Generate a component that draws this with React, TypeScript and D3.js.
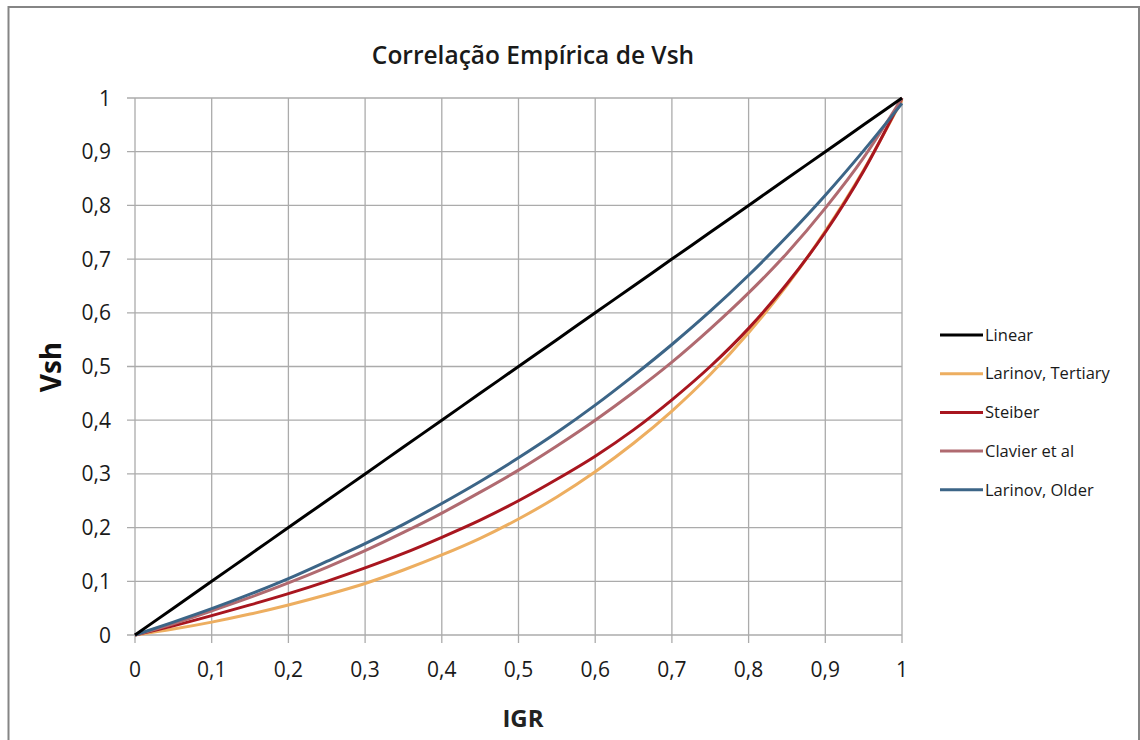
import React, { useRef, useEffect } from 'react';
import * as d3 from 'd3';

const W = 1140;
const H = 740;

// IGR values (x axis)
const igr = [0, 0.05, 0.1, 0.15, 0.2, 0.25, 0.3, 0.35, 0.4, 0.45, 0.5, 0.55, 0.6, 0.65, 0.7, 0.75, 0.8, 0.85, 0.9, 0.95, 1];

// Vsh readings per correlation
const linear = [0, 0.05, 0.1, 0.15, 0.2, 0.25, 0.3, 0.35, 0.4, 0.45, 0.5, 0.55, 0.6, 0.65, 0.7, 0.75, 0.8, 0.85, 0.9, 0.95, 1];
const larinovTertiary = [0, 0.011, 0.024, 0.039, 0.056, 0.075, 0.096, 0.121, 0.149, 0.18, 0.216, 0.257, 0.304, 0.357, 0.417, 0.485, 0.563, 0.651, 0.752, 0.866, 0.996];
const steiber = [0, 0.017, 0.036, 0.056, 0.077, 0.1, 0.125, 0.152, 0.182, 0.214, 0.25, 0.29, 0.333, 0.382, 0.438, 0.5, 0.571, 0.654, 0.75, 0.864, 1];
const clavier = [0, 0.021, 0.045, 0.07, 0.097, 0.126, 0.157, 0.191, 0.227, 0.266, 0.307, 0.352, 0.4, 0.452, 0.508, 0.57, 0.637, 0.711, 0.795, 0.889, 1];
const larinovOlder = [0, 0.024, 0.049, 0.076, 0.105, 0.137, 0.17, 0.206, 0.245, 0.286, 0.33, 0.377, 0.428, 0.483, 0.541, 0.603, 0.67, 0.742, 0.819, 0.902, 0.99];

const seriesNames = ['Linear', 'Larinov, Tertiary', 'Steiber', 'Clavier et al', 'Larinov, Older'];
const seriesValues = [linear, larinovTertiary, steiber, clavier, larinovOlder];
const seriesColors = ['#000000', '#EDAE60', '#A8161F', '#B06A70', '#3C6587'];

const ticks = [0, 0.1, 0.2, 0.3, 0.4, 0.5, 0.6, 0.7, 0.8, 0.9, 1];
const fmt = (d: number) => (d === 0 || d === 1 ? String(d) : d.toFixed(1).replace('.', ','));

const App: React.FC = () => {
  const svgRef = useRef<SVGSVGElement>(null);

  useEffect(() => {
    if (!svgRef.current) return;
    const svg = d3.select(svgRef.current);
    svg.selectAll('*').remove();

    const font = "'Open Sans', 'Noto Sans', sans-serif";
    const margin = { left: 135, right: 238, top: 98, bottom: 105 };

    const x = d3.scaleLinear().domain([0, 1]).range([margin.left, W - margin.right]);
    const y = d3.scaleLinear().domain([0, 1]).range([H - margin.bottom, margin.top]);

    svg.append('rect')
      .attr('x', 0).attr('y', 0).attr('width', W).attr('height', H)
      .attr('fill', '#ffffff');

    // outer chart border
    svg.append('rect')
      .attr('x', 8.5).attr('y', 7).attr('width', W - 9.5).attr('height', H + 10)
      .attr('fill', 'none').attr('stroke', '#858585').attr('stroke-width', 2);

    // Grid
    const grid = svg.append('g').attr('stroke', '#ababab').attr('stroke-width', 1.3);
    ticks.forEach(t => {
      grid.append('line')
        .attr('x1', x(t)).attr('x2', x(t))
        .attr('y1', y(1)).attr('y2', y(0) + 8);
      grid.append('line')
        .attr('x1', x(0) - 8).attr('x2', x(1))
        .attr('y1', y(t)).attr('y2', y(t));
    });

    // Tick labels
    svg.append('g')
      .selectAll('text')
      .data(ticks)
      .join('text')
      .attr('x', d => x(d))
      .attr('y', y(0) + 42)
      .attr('text-anchor', 'middle')
      .attr('font-family', font)
      .attr('font-size', 21)
      .attr('fill', '#1a1a1a')
      .text(d => fmt(d));

    svg.append('g')
      .selectAll('text')
      .data(ticks)
      .join('text')
      .attr('x', 111)
      .attr('y', d => y(d))
      .attr('dy', '0.36em')
      .attr('text-anchor', 'end')
      .attr('font-family', font)
      .attr('font-size', 21)
      .attr('fill', '#1a1a1a')
      .text(d => fmt(d));

    // Curves
    const line = d3.line<number>()
      .x((_, i) => x(igr[i]))
      .y(d => y(d))
      .curve(d3.curveMonotoneX);

    const drawOrder = [1, 2, 3, 4, 0];
    drawOrder.forEach(k => {
      svg.append('path')
        .datum(seriesValues[k])
        .attr('d', line)
        .attr('fill', 'none')
        .attr('stroke', seriesColors[k])
        .attr('stroke-width', 3)
        .attr('stroke-linejoin', 'round');
    });

    // Title
    svg.append('text')
      .attr('x', 533).attr('y', 64)
      .attr('text-anchor', 'middle')
      .attr('font-family', font)
      .attr('font-size', 24.5)
      .attr('font-weight', 600)
      .attr('fill', '#1a1a1a')
      .text('Correlação Empírica de Vsh');

    // Axis titles
    svg.append('text')
      .attr('transform', 'translate(61, 367) rotate(-90)')
      .attr('text-anchor', 'middle')
      .attr('font-family', font)
      .attr('font-size', 28)
      .attr('font-weight', 700)
      .attr('fill', '#111')
      .text('Vsh');

    svg.append('text')
      .attr('x', 523).attr('y', 727)
      .attr('text-anchor', 'middle')
      .attr('font-family', font)
      .attr('font-size', 24)
      .attr('font-weight', 700)
      .attr('fill', '#222')
      .text('IGR');

    // Legend
    const legend = svg.append('g');
    seriesNames.forEach((name, i) => {
      const ly = 335 + i * 38.7;
      legend.append('line')
        .attr('x1', 940).attr('x2', 983)
        .attr('y1', ly).attr('y2', ly)
        .attr('stroke', seriesColors[i])
        .attr('stroke-width', 3);
      legend.append('text')
        .attr('x', 985).attr('y', ly)
        .attr('dy', '0.35em')
        .attr('font-family', font)
        .attr('font-size', 16.5)
        .attr('fill', '#1a1a1a')
        .text(name);
    });
  }, []);

  return (
    <svg
      ref={svgRef}
      width={W}
      height={H}
      style={{ position: 'absolute', left: 0, top: 0, display: 'block' }}
    />
  );
};

export default App;
